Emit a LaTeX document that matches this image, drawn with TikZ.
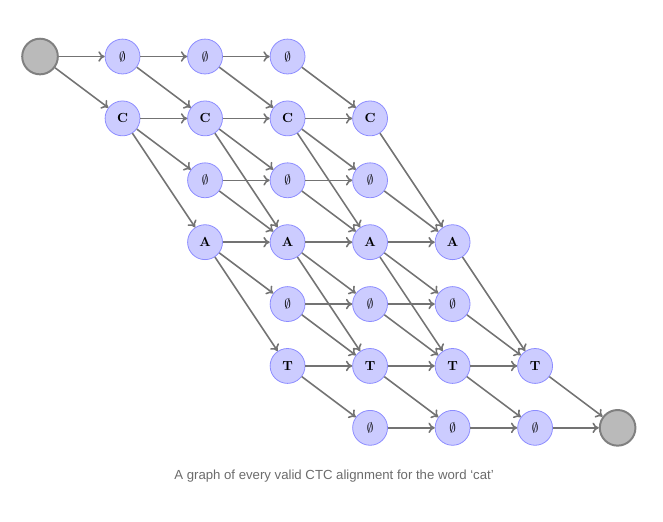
\documentclass[tikz,border=0pt]{standalone}
\usepackage{fontspec}
\usepackage{amsmath,amssymb}
\usepackage{tikz}
\usetikzlibrary{arrows.meta}
\usepackage{xcolor}
\newfontfamily\capfont{Liberation Sans}
\newcommand{\blank}{$\emptyset$}

\begin{document}
\begin{tikzpicture}[
  tok/.style={circle,draw=blue!45,line width=0.6pt,fill=blue!20,minimum size=0.93cm,inner sep=0pt,font=\bfseries},
  term/.style={circle,draw=black!50,line width=1.5pt,fill=black!27,minimum size=0.95cm,inner sep=0pt},
  arr/.style={-{To[length=1.7mm,width=2.8mm]},line width=1.2pt,draw=black!55}
]
\useasboundingbox (-1.067,1.507) rectangle (16.61,-12.39);
% terminal states
\node[term] (start) at (0,0) {};
\node[term] (stop) at (15.4,-9.9) {};

% row of leading blanks and C
\node[tok] (z01) at (2.2,0) {\blank};
\node[tok] (z02) at (4.4,0) {\blank};
\node[tok] (z03) at (6.6,0) {\blank};
\node[tok] (c1) at (2.2,-1.65) {C};
\node[tok] (c2) at (4.4,-1.65) {C};
\node[tok] (c3) at (6.6,-1.65) {C};
\node[tok] (c4) at (8.8,-1.65) {C};

% blanks and A
\node[tok] (z22) at (4.4,-3.3) {\blank};
\node[tok] (z23) at (6.6,-3.3) {\blank};
\node[tok] (z24) at (8.8,-3.3) {\blank};
\node[tok] (a2) at (4.4,-4.95) {A};
\node[tok] (a3) at (6.6,-4.95) {A};
\node[tok] (a4) at (8.8,-4.95) {A};
\node[tok] (a5) at (11,-4.95) {A};

% blanks and T
\node[tok] (z43) at (6.6,-6.6) {\blank};
\node[tok] (z44) at (8.8,-6.6) {\blank};
\node[tok] (z45) at (11,-6.6) {\blank};
\node[tok] (t3) at (6.6,-8.25) {T};
\node[tok] (t4) at (8.8,-8.25) {T};
\node[tok] (t5) at (11,-8.25) {T};
\node[tok] (t6) at (13.2,-8.25) {T};

% trailing blanks
\node[tok] (z64) at (8.8,-9.9) {\blank};
\node[tok] (z65) at (11,-9.9) {\blank};
\node[tok] (z66) at (13.2,-9.9) {\blank};

\draw[arr] (start) -- (z01);
\draw[arr] (start) -- (c1);

\draw[arr] (z01) -- (z02); \draw[arr] (z01) -- (c2);
\draw[arr] (c1) -- (c2); \draw[arr] (c1) -- (z22); \draw[arr] (c1) -- (a2);

\draw[arr] (z02) -- (z03); \draw[arr] (z02) -- (c3);
\draw[arr] (c2) -- (c3); \draw[arr] (c2) -- (z23); \draw[arr] (c2) -- (a3);
\draw[arr] (z22) -- (z23); \draw[arr] (z22) -- (a3);
\draw[arr] (a2) -- (a3); \draw[arr] (a2) -- (z43); \draw[arr] (a2) -- (t3);

\draw[arr] (z03) -- (c4);
\draw[arr] (c3) -- (c4); \draw[arr] (c3) -- (z24); \draw[arr] (c3) -- (a4);
\draw[arr] (z23) -- (z24); \draw[arr] (z23) -- (a4);
\draw[arr] (a3) -- (a4); \draw[arr] (a3) -- (z44); \draw[arr] (a3) -- (t4);
\draw[arr] (z43) -- (z44); \draw[arr] (z43) -- (t4);
\draw[arr] (t3) -- (t4); \draw[arr] (t3) -- (z64);

\draw[arr] (c4) -- (a5);
\draw[arr] (z24) -- (a5);
\draw[arr] (a4) -- (a5); \draw[arr] (a4) -- (z45); \draw[arr] (a4) -- (t5);
\draw[arr] (z44) -- (z45); \draw[arr] (z44) -- (t5);
\draw[arr] (t4) -- (t5); \draw[arr] (t4) -- (z65);
\draw[arr] (z64) -- (z65);

\draw[arr] (a5) -- (t6);
\draw[arr] (z45) -- (t6);
\draw[arr] (t5) -- (t6); \draw[arr] (t5) -- (z66);
\draw[arr] (z65) -- (z66);

\draw[arr] (t6) -- (stop);
\draw[arr] (z66) -- (stop);

\node[font=\capfont\fontsize{10}{12}\selectfont,text=black!58] (cap) at (7.84,-11.19) {A graph of every valid CTC alignment for the word ‘cat’};
\end{tikzpicture}
\end{document}
